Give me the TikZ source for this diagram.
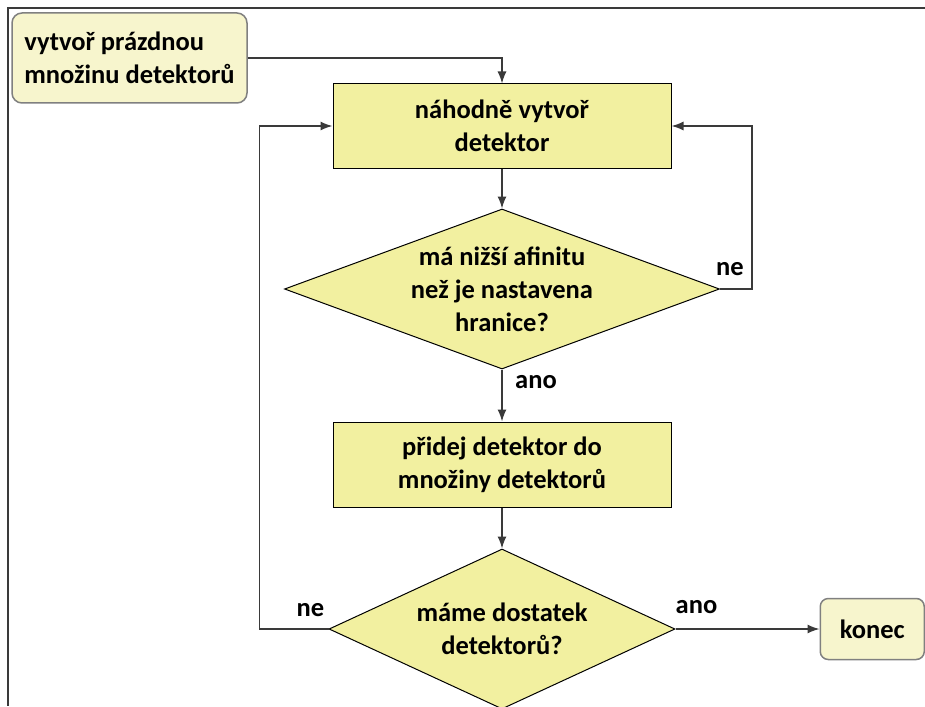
\documentclass[tikz,border=0pt]{standalone}
\usepackage{fontspec}
\setmainfont{Carlito}
\usetikzlibrary{shapes,positioning,calc,arrows.meta}
\definecolor{boxfill}{HTML}{F2F0A0}
\definecolor{softfill}{HTML}{F7F5CD}
\definecolor{linegray}{HTML}{3A3A3A}

\begin{document}
\begin{tikzpicture}[x=1pt,y=-1pt,font=\fontsize{26.5}{33}\selectfont\bfseries,line width=1.4pt]
		\useasboundingbox (0,0) rectangle (925,706);
		\draw[linegray, line width=2pt] (925,8) -- (8,8) -- (8,706);

		\node[draw=gray,
			fill=softfill,
			rounded corners=10pt,
			minimum width=235pt,
			minimum height=90pt,
			align=left,
			line width=1.5pt
		] (start) at (129.5,58) {vytvoř prázdnou\\množinu detektorů};

		\node[draw,
			fill=boxfill,
			minimum width=338pt,
			minimum height=84pt,
			line width=1pt,
			align=center
		] (create) at (502,126) {náhodně vytvoř\\detektor};

		\node[draw,
			diamond,
			aspect=2.72,
			fill=boxfill,
			below=40pt of create,
			minimum width=435pt,
			minimum height=160pt,
			inner sep=0pt,
			line width=1pt,
			align=center
		] (affinity) {má nižší afinitu\\než je nastavena\\hranice?};

		\node[draw,
			fill=boxfill,
			below=52pt of affinity,
			minimum width=338pt,
			minimum height=85pt,
			line width=1pt,
			align=center
		] (add) {přidej detektor do\\množiny detektorů};

		\node[draw,
			diamond,
			aspect=2.16,
			fill=boxfill,
			below=41pt of add,
			minimum width=346pt,
			minimum height=160pt,
			inner sep=0pt,
			line width=1pt,
			align=center
		] (enough) {máme dostatek\\detektorů?};

		\node[draw=gray,
			fill=softfill,
			rounded corners=8pt,
			right=144pt of enough,
			minimum width=104pt,
			minimum height=61pt,
			line width=1.5pt
		] (end) {konec};

		\node[coordinate, right=32pt of affinity] (rturn) {};
		\node[coordinate, left=69pt of enough] (lturn) {};

		\node (no1) at ($(affinity.east)+(10,-20)$) {ne};
		\node (yes1) at ($(affinity.south)+(34,13)$) {ano};
		\node (no2) at ($(enough.west)+(-18,-19)$) {ne};
		\node (yes2) at ($(enough.east)+(21,-22)$) {ano};

		\draw[-{Latex[length=12pt,width=9pt]}, linegray] (start) -| (create);
		\draw[-{Latex[length=12pt,width=9pt]}, linegray] (create) edge (affinity)
		(affinity) edge (add)
		(add) edge (enough)
		(enough) edge (end)
		(affinity.east) -- (rturn) |- (create.east);
		\draw[-{Latex[length=12pt,width=9pt]}, linegray] (enough.west) -- (lturn) |- (create.west);

	\end{tikzpicture}
\end{document}
